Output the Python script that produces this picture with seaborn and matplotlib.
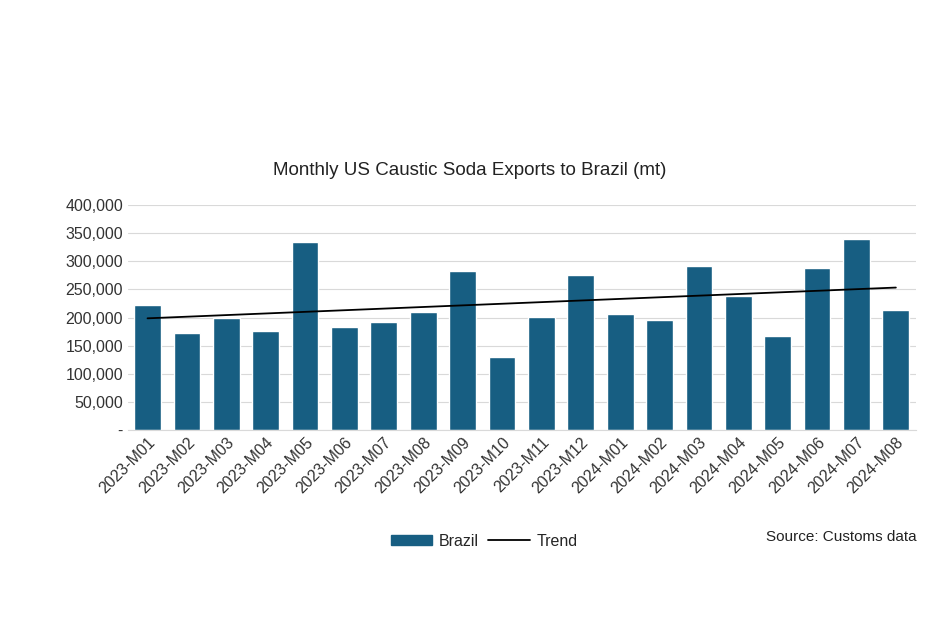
import numpy as np
import pandas as pd
import matplotlib
matplotlib.use('Agg')
import matplotlib.pyplot as plt
import seaborn as sns
from matplotlib.ticker import FuncFormatter
from matplotlib.patches import Patch
from matplotlib.lines import Line2D

months = [f"2023-M{m:02d}" for m in range(1, 13)] + [f"2024-M{m:02d}" for m in range(1, 9)]
brazil = [222000, 173000, 200000, 176000, 334000, 184000, 193000, 210000, 282000, 130000,
          201000, 276000, 206000, 196000, 291000, 239000, 167000, 288000, 339000, 213000]

df = pd.DataFrame({'month': months, 'Brazil': brazil})
x = np.arange(len(months))
coef = np.polyfit(x, brazil, 1)
trend = np.polyval(coef, x)

sns.set_style('white')
plt.rcParams['font.family'] = ['Liberation Sans', 'DejaVu Sans']

fig = plt.figure(figsize=(9.4, 6.27), dpi=100)
ax = fig.add_axes([0.136, 0.314, 0.838, 0.359])

bar_color = '#175e82'
sns.barplot(data=df, x='month', y='Brazil', color=bar_color, width=0.68, ax=ax, saturation=1)
ax.plot(x, trend, color='black', lw=1.3)

ax.set_ylim(0, 400000)
ax.set_yticks(range(0, 400001, 50000))
ax.yaxis.set_major_formatter(FuncFormatter(lambda v, p: '-' if v == 0 else f"{int(v):,}"))
ax.grid(axis='y', color='#d9d9d9', lw=0.8)
ax.set_axisbelow(True)
for s in ['top', 'right', 'left']:
    ax.spines[s].set_visible(False)
ax.spines['bottom'].set_color('#d9d9d9')
ax.set_xlabel('')
ax.set_ylabel('')
ax.set_xlim(-0.5, len(months) - 0.5)
ax.tick_params(axis='y', labelsize=11.5, length=0, colors='#333333')
ax.tick_params(axis='x', labelsize=11.5, length=0, colors='#333333')
plt.setp(ax.get_xticklabels(), rotation=45, ha='right', rotation_mode='anchor')

fig.text(0.5, 0.728, 'Monthly US Caustic Soda Exports to Brazil (mt)', ha='center', va='center',
         fontsize=13.5, color='#222222')

handles = [Patch(color=bar_color, label='Brazil'), Line2D([0], [0], color='black', lw=1.3, label='Trend')]
fig.legend(handles=handles, loc='center', bbox_to_anchor=(0.515, 0.137), ncol=2, frameon=False,
           fontsize=11.5, handlelength=2.6, handleheight=0.6, columnspacing=0.6, handletextpad=0.4)
fig.text(0.975, 0.143, 'Source: Customs data', ha='right', va='center', fontsize=11, color='#222222')

fig.savefig('out.png', dpi=100)
